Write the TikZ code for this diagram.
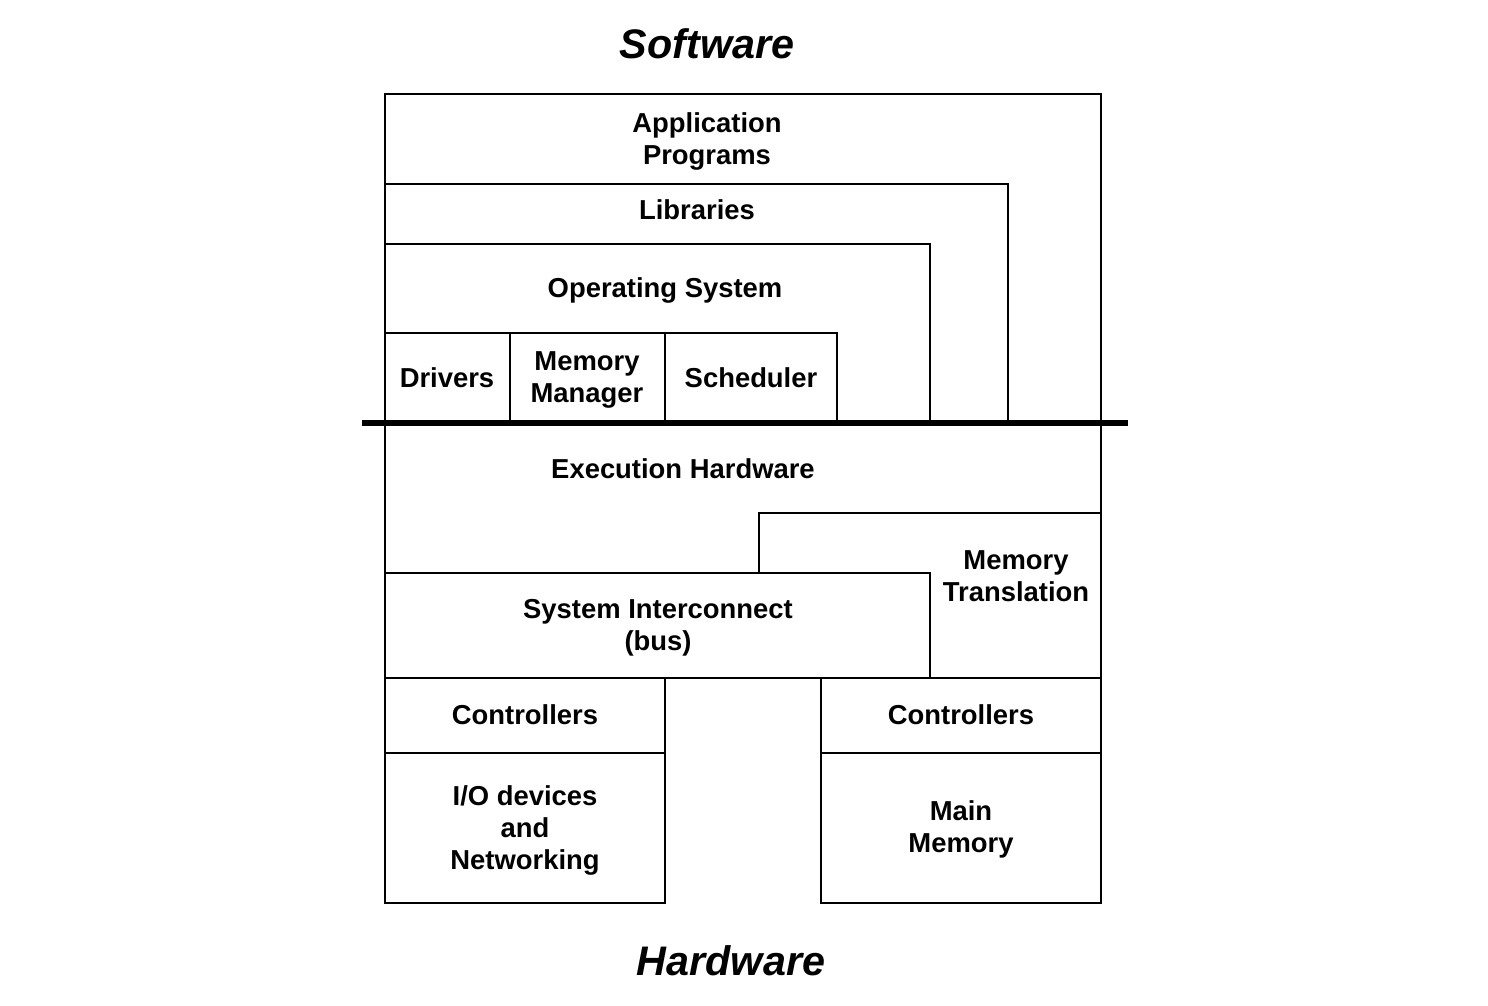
\documentclass[tikz,border=0pt]{standalone}
\usepackage{fontspec}
\setmainfont{Liberation Sans}
\begin{document}
\begin{tikzpicture}[x=0.02cm, y=-0.02cm,
  layer/.style={draw=black, fill=white, line width=1.1pt},
  lbl/.style={font=\fontsize{15.6}{18.2}\selectfont\bfseries, align=center, inner sep=0pt},
  title/.style={font=\fontsize{23.5}{28}\selectfont\bfseries\itshape, inner sep=0pt},
  split/.style={line width=3.4pt, draw=black},
]
\useasboundingbox (0,0) rectangle (1488,1006);

% ---------------------------------------------------------------- software
\node[title] (sw) at (707,44) {Software};
\draw[layer] (385,94) rectangle (1101,423);
\draw[layer] (385,184) rectangle (1008,423);
\draw[layer] (385,244) rectangle (930,423);
\draw[layer] (385,333) rectangle (510,423);
\draw[layer] (510,333) rectangle (665,423);
\draw[layer] (665,333) rectangle (837,423);
\node[lbl] (app) at (707,141) {Application\\Programs};
\node[lbl] (lib) at (697,210) {Libraries};
\node[lbl] (os) at (665,290) {Operating System};
\node[lbl] (drv) at (447,378) {Drivers};
\node[lbl] (mm) at (587,380) {Memory\\Manager};
\node[lbl] (sch) at (751,378) {Scheduler};

% ---------------------------------------------------------------- hardware
\draw[layer] (385,423) rectangle (1101,678);
\draw[layer] (759,513) rectangle (1101,678);
\draw[layer] (385,573) rectangle (930,678);
\draw[layer] (385,678) rectangle (665,753);
\draw[layer] (385,753) rectangle (665,903);
\draw[layer] (821,678) rectangle (1101,753);
\draw[layer] (821,753) rectangle (1101,903);
\node[lbl] (exe) at (683,469) {Execution Hardware};
\node[lbl] (mt) at (1016,576) {Memory\\Translation};
\node[lbl] (bus) at (658,628) {System Interconnect\\(bus)};
\node[lbl] (ctl1) at (525,715) {Controllers};
\node[lbl] (io) at (525,830) {I/O devices\\and\\Networking};
\node[lbl] (ctl2) at (961,715) {Controllers};
\node[lbl] (mem) at (961,829) {Main\\Memory};
\node[title] (hw) at (731,961) {Hardware};

% ---------------------------------------------------------------- boundary
\coordinate (bl) at (362,423);
\coordinate (br) at (1128,423);
\draw[split] (bl) -- (br);
\end{tikzpicture}
\end{document}
